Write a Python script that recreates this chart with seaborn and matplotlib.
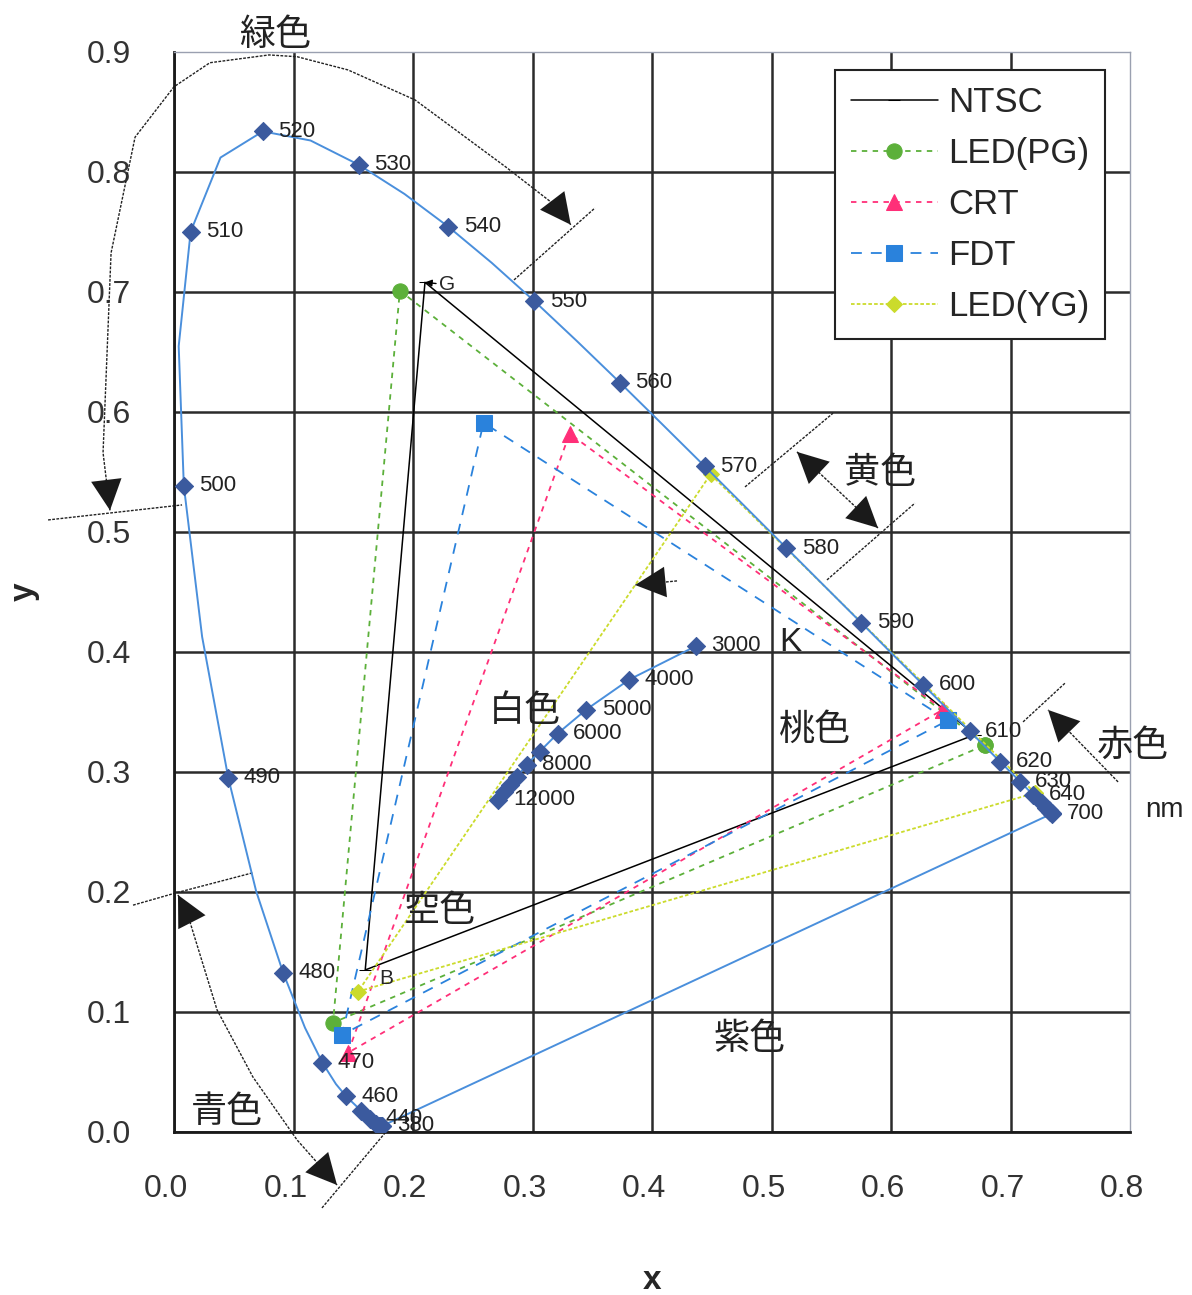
import numpy as np
import pandas as pd
import matplotlib.pyplot as plt
import matplotlib.transforms as mtransforms
import seaborn as sns

# spectral locus (CIE 1931 2deg)
locus_nm = [380, 390, 400, 410, 420, 430, 440, 450, 460, 465, 470, 475, 480, 485, 490, 495,
            500, 505, 510, 515, 520, 525, 530, 535, 540, 545, 550, 555, 560, 565, 570, 575,
            580, 585, 590, 595, 600, 605, 610, 615, 620, 625, 630, 635, 640, 650, 660, 670,
            680, 690, 700]
locus_x = [0.1741, 0.1738, 0.1733, 0.1726, 0.1714, 0.1689, 0.1644, 0.1566, 0.1440, 0.1355,
           0.1241, 0.1096, 0.0913, 0.0687, 0.0454, 0.0235, 0.0082, 0.0039, 0.0139, 0.0389,
           0.0743, 0.1142, 0.1547, 0.1929, 0.2296, 0.2658, 0.3016, 0.3373, 0.3731, 0.4087,
           0.4441, 0.4788, 0.5125, 0.5448, 0.5752, 0.6029, 0.6270, 0.6482, 0.6658, 0.6801,
           0.6915, 0.7006, 0.7079, 0.7140, 0.7190, 0.7260, 0.7300, 0.7320, 0.7334, 0.7344,
           0.7347]
locus_y = [0.0050, 0.0049, 0.0048, 0.0048, 0.0051, 0.0069, 0.0109, 0.0177, 0.0297, 0.0399,
           0.0578, 0.0868, 0.1327, 0.2007, 0.2950, 0.4127, 0.5384, 0.6548, 0.7502, 0.8120,
           0.8338, 0.8262, 0.8059, 0.7816, 0.7543, 0.7243, 0.6923, 0.6589, 0.6245, 0.5896,
           0.5547, 0.5202, 0.4866, 0.4544, 0.4242, 0.3965, 0.3725, 0.3514, 0.3340, 0.3197,
           0.3083, 0.2993, 0.2920, 0.2859, 0.2809, 0.2740, 0.2700, 0.2680, 0.2666, 0.2656,
           0.2653]
locus_labels = [380, 440, 460, 470, 480, 490, 500, 510, 520, 530, 540, 550, 560, 570,
                580, 590, 600, 610, 620, 630, 640, 700]

# black body locus
cct_k = [3000, 4000, 5000, 6000, 7000, 8000, 9000, 10000, 11000, 12000]
cct_x = [0.437, 0.381, 0.345, 0.321, 0.306, 0.295, 0.287, 0.281, 0.276, 0.271]
cct_y = [0.405, 0.377, 0.352, 0.332, 0.317, 0.306, 0.296, 0.289, 0.283, 0.277]
cct_labels = [3000, 4000, 5000, 6000, 8000, 12000]

# gamut triangles (R, G, B)
gamut_names = ["NTSC", "LED(PG)", "CRT", "FDT", "LED(YG)"]
ntsc_x = [0.670, 0.210, 0.160]
ntsc_y = [0.331, 0.708, 0.135]
ledpg_x = [0.679, 0.189, 0.133]
ledpg_y = [0.3225, 0.701, 0.091]
crt_x = [0.6435, 0.331, 0.1456]
crt_y = [0.352, 0.582, 0.066]
fdt_x = [0.6477, 0.259, 0.1406]
fdt_y = [0.343, 0.591, 0.081]
ledyg_x = [0.7205, 0.449, 0.154]
ledyg_y = [0.2825, 0.548, 0.117]

sns.set_style("white")
plt.rcParams['font.family'] = ['Liberation Sans', 'Noto Sans CJK JP', 'DejaVu Sans']

fig = plt.figure(figsize=(11.92, 12.95), dpi=100)
ax = fig.add_axes([0.146, 0.1259, 0.802, 0.834])

blue_line = "#4a8fdc"
blue_mark = "#3b5a9e"

styles = {
    "NTSC": dict(color="black", linestyle="-", marker="_", markersize=8, linewidth=1.1),
    "LED(PG)": dict(color="#5cb03a", linestyle=(0, (3, 3)), marker="o", markersize=11, linewidth=1.3),
    "CRT": dict(color="#ff2f78", linestyle=(0, (3, 3)), marker="^", markersize=12, linewidth=1.3),
    "FDT": dict(color="#2a82dc", linestyle=(0, (6, 5)), marker="s", markersize=11, linewidth=1.3),
    "LED(YG)": dict(color="#cbdb2c", linestyle=(0, (2, 1.2)), marker="D", markersize=8, linewidth=1.3),
}
gamuts = {
    "NTSC": (ntsc_x, ntsc_y),
    "LED(PG)": (ledpg_x, ledpg_y),
    "CRT": (crt_x, crt_y),
    "FDT": (fdt_x, fdt_y),
    "LED(YG)": (ledyg_x, ledyg_y),
}
for name in gamut_names:
    gx, gy = gamuts[name]
    st = styles[name]
    sns.lineplot(x=gx + gx[:1], y=gy + gy[:1], sort=False, estimator=None, ax=ax,
                 label=name, color=st["color"], linestyle=st["linestyle"], linewidth=st["linewidth"],
                 marker=st["marker"], markersize=st["markersize"],
                 markerfacecolor=st["color"], markeredgecolor=st["color"], zorder=3)

# spectral locus + purple line
sns.lineplot(x=locus_x, y=locus_y, sort=False, estimator=None, ax=ax, color=blue_line,
             linewidth=1.4, zorder=4)
sns.lineplot(x=[locus_x[0], locus_x[-1]], y=[locus_y[0], locus_y[-1]], sort=False,
             estimator=None, ax=ax, color=blue_line, linewidth=1.4, zorder=4)
locus_df = pd.DataFrame({"nm": locus_nm, "x": locus_x, "y": locus_y})
marks = locus_df[locus_df["nm"] % 10 == 0]
sns.scatterplot(data=marks, x="x", y="y", marker="D", s=85, color=blue_mark,
                edgecolor=blue_mark, ax=ax, zorder=5, legend=False)
for _, r in locus_df[locus_df["nm"].isin(locus_labels)].iterrows():
    ax.annotate(str(int(r["nm"])), (r["x"], r["y"]), xytext=(11, 0), textcoords="offset points",
                ha="left", va="center", fontsize=16, color="#222222", zorder=6)

# black body locus
sns.lineplot(x=cct_x, y=cct_y, sort=False, estimator=None, ax=ax, color=blue_line,
             linewidth=1.4, zorder=4)
sns.scatterplot(x=cct_x, y=cct_y, marker="D", s=85, color=blue_mark, edgecolor=blue_mark,
                ax=ax, zorder=5, legend=False)
for k, cx, cy in zip(cct_k, cct_x, cct_y):
    if k in cct_labels:
        ax.annotate(str(k), (cx, cy), xytext=(11, 0), textcoords="offset points",
                    ha="left", va="center", fontsize=16, color="#222222", zorder=6)
ax.text(0.5155, 0.4075, "K", fontsize=24, ha="center", va="center", color="#222222")
ax.text(0.829, 0.268, "nm", fontsize=20, ha="center", va="center", color="#222222", clip_on=False)

# region annotations
ann = dict(color="#222222", lw=1.0, linestyle=(0, (2, 1)), zorder=2)


def head(p_from, p_to):
    ax.annotate("", xy=p_to, xytext=p_from, annotation_clip=False,
                arrowprops=dict(arrowstyle="-|>,head_length=1.0,head_width=0.5", mutation_scale=22,
                                color="#1a1a1a", lw=0.01, shrinkA=0, shrinkB=0))


def path(xs, ys, start_head=False, end_head=False):
    ax.plot(xs, ys, clip_on=False, **ann)
    if end_head:
        head((xs[-2], ys[-2]), (xs[-1], ys[-1]))
    if start_head:
        head((xs[1], ys[1]), (xs[0], ys[0]))


# green
path([-0.0536, -0.0594, -0.0527, -0.0326, 0.0, 0.030, 0.0795, 0.103, 0.1456, 0.2017, 0.2778, 0.3205, 0.332],
     [0.518, 0.566, 0.7325, 0.829, 0.871, 0.891, 0.8975, 0.896, 0.885, 0.860, 0.804, 0.771, 0.756],
     start_head=True, end_head=True)
# blue
path([0.0033, 0.011, 0.036, 0.066, 0.103, 0.1364],
     [0.1975, 0.1825, 0.1017, 0.0458, -0.0067, -0.0442], start_head=True, end_head=True)
# yellow
path([0.5213, 0.5891], [0.5667, 0.5033], start_head=True, end_head=True)
# red
path([0.790, 0.7314], [0.2917, 0.3517], end_head=True)
# white
path([0.4209, 0.3858], [0.4592, 0.4558], end_head=True)

# region boundaries
for bx, by in [([-0.1054, 0.0067], [0.510, 0.5225]),
               ([0.2845, 0.3523], [0.710, 0.770]),
               ([0.4778, 0.5515], [0.5375, 0.599]),
               ([0.5464, 0.620], [0.460, 0.524]),
               ([0.7105, 0.7456], [0.3417, 0.374]),
               ([-0.0343, 0.0008, 0.066], [0.189, 0.199, 0.216]),
               ([0.1238, 0.1766], [-0.0633, -0.0008])]:
    ax.plot(bx, by, clip_on=False, **ann)

jp = dict(fontsize=26, ha="center", va="center", color="#222222", clip_on=False)
ax.text(0.0845, 0.914, "緑色", **jp)
ax.text(0.591, 0.549, "黄色", **jp)
ax.text(0.8025, 0.321, "赤色", **jp)
ax.text(0.0444, 0.0158, "青色", **jp)
ax.text(0.2226, 0.1833, "空色", **jp)
ax.text(0.2937, 0.350, "白色", **jp)
ax.text(0.5364, 0.335, "桃色", **jp)
ax.text(0.482, 0.0767, "紫色", **jp)

# vertex tags of NTSC
ax.annotate("G", xy=(0.210, 0.708), xytext=(0.222, 0.706), fontsize=15, va="center",
            arrowprops=dict(arrowstyle="-|>", color="black", lw=1, shrinkA=0, shrinkB=0,
                            mutation_scale=10))
ax.text(0.172, 0.128, "B", fontsize=15, va="center", ha="left")

ax.set_xlim(0, 0.8)
ax.set_ylim(0, 0.9)
ax.set_xticks(np.arange(0, 0.81, 0.1))
ax.set_yticks(np.arange(0, 0.91, 0.1))
ax.set_xticklabels([f"{v:.1f}" for v in np.arange(0, 0.81, 0.1)], fontsize=23, color="#333333")
ax.set_yticklabels([f"{v:.1f}" for v in np.arange(0, 0.91, 0.1)], fontsize=23, color="#333333")
ax.tick_params(axis="x", length=0, pad=30)
ax.tick_params(axis="y", length=0, pad=31)
shift = mtransforms.ScaledTranslation(-0.08, 0, fig.dpi_scale_trans)
for lab in ax.get_xticklabels():
    lab.set_transform(lab.get_transform() + shift)
ax.set_axisbelow(True)
ax.grid(True, color="#2b2b2b", linewidth=1.8)
ax.xaxis.get_gridlines()[-1].set_visible(False)
ax.yaxis.get_gridlines()[-1].set_visible(False)
for side in ["left", "bottom"]:
    ax.spines[side].set_color("#1a1a1a")
    ax.spines[side].set_linewidth(2)
for side in ["top", "right"]:
    ax.spines[side].set_color("#9aa0b0")
    ax.spines[side].set_linewidth(1)

ax.set_xlabel("x", fontsize=24, fontweight="bold", labelpad=44)
ax.set_ylabel("y", fontsize=24, fontweight="bold", labelpad=34)

leg = ax.legend(loc="upper right", bbox_to_anchor=(0.974, 0.983), borderaxespad=0,
                fontsize=25, handlelength=2.5, handletextpad=0.3, labelspacing=0.52,
                borderpad=0.45, fancybox=False, framealpha=1)
leg.get_frame().set_edgecolor("#222222")
leg.get_frame().set_linewidth(1.5)

plt.savefig("out.png", dpi=100)
